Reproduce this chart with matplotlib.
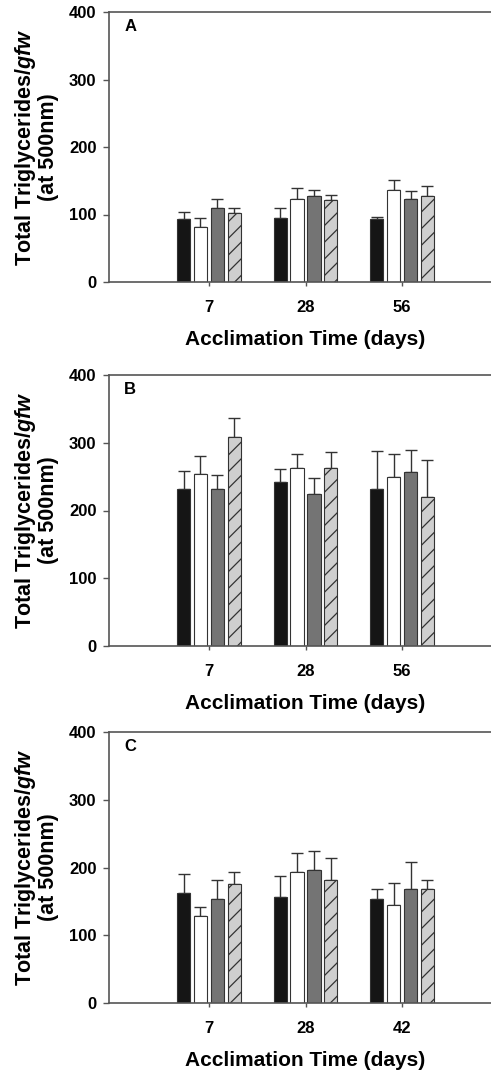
import matplotlib
matplotlib.use("Agg")
import matplotlib.pyplot as plt
import numpy as np

plt.rcParams['font.family'] = ['Liberation Sans', 'DejaVu Sans']
plt.rcParams['font.weight'] = 'bold'
plt.rcParams['mathtext.fontset'] = 'custom'
plt.rcParams['mathtext.it'] = 'Liberation Sans:italic:bold'
plt.rcParams['mathtext.rm'] = 'Liberation Sans:bold'
plt.rcParams['hatch.linewidth'] = 0.9
plt.rcParams['hatch.color'] = '#222222'

# Data: [panel][series][timepoint]
panel_letters = ["A", "B", "C"]
time_labels = [["7", "28", "56"], ["7", "28", "56"], ["7", "28", "42"]]

means_A = [[93, 95, 93], [81, 123, 136], [109, 127, 123], [102, 122, 128]]
upper_A = [[104, 110, 96], [95, 140, 151], [123, 136, 135], [110, 129, 142]]
means_B = [[232, 242, 232], [254, 263, 250], [231, 225, 257], [309, 263, 220]]
upper_B = [[258, 261, 288], [280, 284, 283], [253, 248, 290], [337, 287, 275]]
means_C = [[163, 157, 154], [128, 194, 144], [153, 197, 168], [175, 182, 168]]
upper_C = [[191, 187, 168], [142, 222, 177], [181, 225, 208], [193, 214, 181]]

all_means = [means_A, means_B, means_C]
all_upper = [upper_A, upper_B, upper_C]

bar_colors = ['#151515', '#ffffff', '#747474', '#cfcfcf']
bar_hatches = [None, None, None, '//']

fig = plt.figure(figsize=(4.91, 10.72), dpi=100)
W, H = 491.0, 1072.0
axes_px = [(12, 282), (375, 646), (732, 1003)]
left_px, right_px = 109, 491

pitch = 0.176
bw = 0.135

for i in range(3):
    top, bot = axes_px[i]
    ax = fig.add_axes([left_px / W, 1 - bot / H, (right_px - left_px) / W, (bot - top) / H])
    x = np.arange(3)
    for s in range(4):
        xs = x + (s - 1.5) * pitch
        m = np.array(all_means[i][s], dtype=float)
        u = np.array(all_upper[i][s], dtype=float)
        ax.bar(xs, m, width=bw, color=bar_colors[s], edgecolor='#333333',
               linewidth=0.8, hatch=bar_hatches[s], zorder=2)
        ax.errorbar(xs, m, yerr=[np.zeros(3), u - m], fmt='none',
                    ecolor='#333333', elinewidth=1.0, capsize=4, capthick=1.0, zorder=1)
    ax.set_xlim(-1.036, 2.922)
    ax.set_ylim(0, 400)
    ax.set_yticks([0, 100, 200, 300, 400])
    ax.set_xticks(x)
    ax.set_xticklabels(time_labels[i])
    for sp in ['left', 'bottom', 'top']:
        ax.spines[sp].set_color('#555555')
        ax.spines[sp].set_linewidth(1.2)
    ax.spines['right'].set_visible(False)
    ax.tick_params(axis='y', direction='out', length=4, width=1, color='#555555',
                   pad=5, labelsize=12)
    ax.tick_params(axis='x', direction='out', length=3, width=1, color='#555555',
                   pad=10, labelsize=12)
    for lab in ax.get_xticklabels() + ax.get_yticklabels():
        lab.set_fontweight('bold')
    ax.set_ylabel("Total Triglycerides/$\\mathit{gfw}$\n(at 500nm)",
                  fontsize=15.5, fontweight='bold', linespacing=1.05)
    ax.yaxis.set_label_coords(-0.13, 0.5)
    ax.set_xlabel("Acclimation Time (days)", fontsize=15, fontweight='bold')
    ax.xaxis.set_label_coords(0.513, -0.178)
    ax.text(0.04, 0.975, panel_letters[i], transform=ax.transAxes,
            fontsize=12, fontweight='bold', va='top', ha='left')

fig.savefig("out.png", dpi=100)
